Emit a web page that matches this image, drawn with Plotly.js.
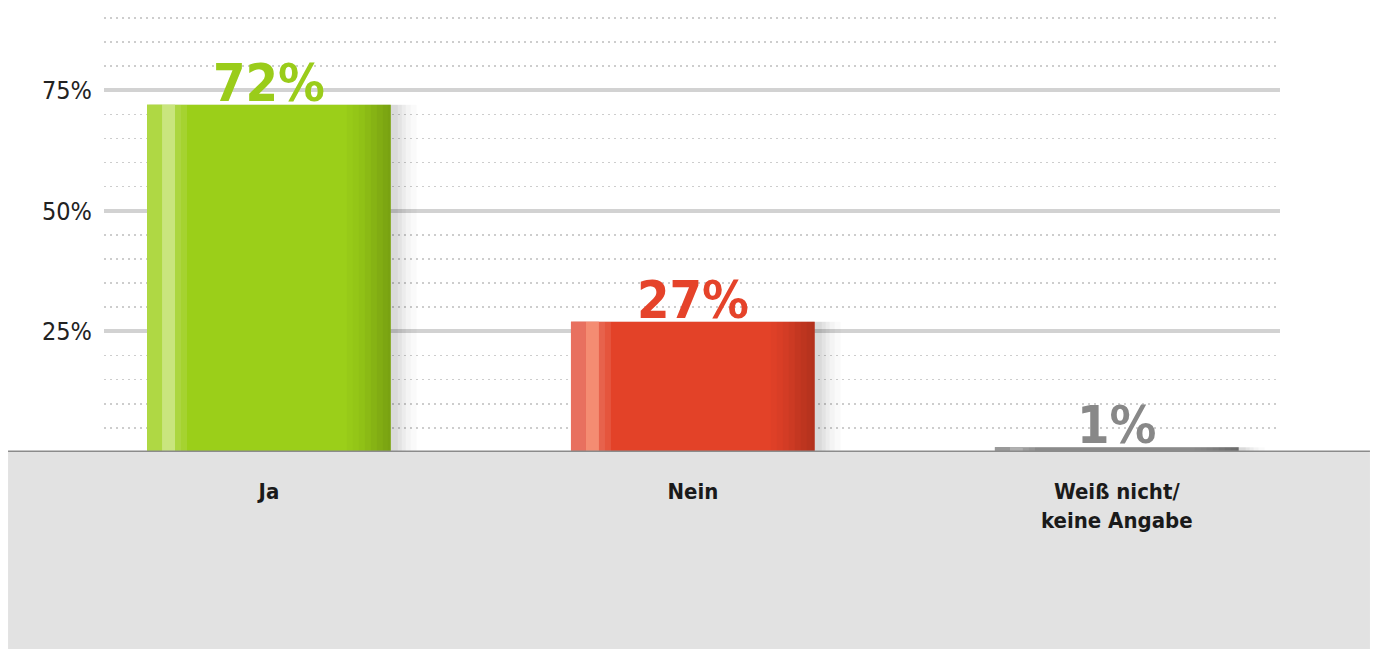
<!DOCTYPE html>
<html>
<head>
<meta charset="utf-8">
<script src="https://cdn.plot.ly/plotly-3.0.1.min.js"></script>
<style>html,body{margin:0;padding:0;background:#fff;}#chart{width:1375px;height:649px;}</style>
</head>
<body>
<div id="chart"></div>
<script>
// ---- data ----
const categories = ['Ja', 'Nein', 'Weiß nicht/<br>keine Angabe'];
const values = [72, 27, 1];
const valueLabels = ['72%', '27%', '1%'];
const yTickVals = [25, 50, 75];
const yTickText = ['25%', '50%', '75%'];

// ---- styles ----
const mainColors = ['#9bcf19', '#e34228', '#8a8a8a'];
const edgeColors = ['#afd844', '#e8705f', '#999999'];
const stripeColors = ['#c9e57e', '#f48c72', '#b0b0b0'];
const textColors = ['#9acc1a', '#e5432a', '#888888'];
const FONT = '"DejaVu Sans Condensed", "Liberation Sans Narrow", sans-serif';

const W = 0.575;          // bar width (category units)
const L = -W / 2;         // left offset
const px = 1 / 424;       // one pixel in category units

function barTrace(offset, width, colors, extra) {
  return Object.assign({
    type: 'bar', x: categories, y: values, offset: offset, width: width,
    marker: {color: colors, line: {width: 0}},
    hoverinfo: 'skip', showlegend: false
  }, extra || {});
}

const traces = [];
// soft shadow on the right
[[24, 0.02], [18, 0.025], [13, 0.03], [9, 0.035], [5, 0.04]].forEach(([e, a]) => {
  traces.push(barTrace(L + 2 * px, W + e * px, 'rgba(0,0,0,' + a + ')'));
});
// main body
traces.push(barTrace(L, W, mainColors, {hoverinfo: 'x+y'}));
// left lighter edge
traces.push(barTrace(L, 15 * px, edgeColors));
// highlight stripe
traces.push(barTrace(L + 15 * px, 13 * px, stripeColors));
// soft fade after stripe
[[12, 0.10], [6, 0.08]].forEach(([w, a]) => {
  traces.push(barTrace(L + 28 * px, w * px, 'rgba(255,255,255,' + a + ')'));
});
// right-side darkening (gradual)
[[44, 0.02], [38, 0.02], [32, 0.025], [26, 0.03], [20, 0.035], [14, 0.035], [8, 0.03], [3, 0.02]].forEach(([w, a]) => {
  traces.push(barTrace(L + W - w * px, w * px, 'rgba(0,0,0,' + a + ')'));
});

const annotations = categories.map((c, i) => ({
  x: c, y: values[i], xref: 'x', yref: 'y',
  text: valueLabels[i], showarrow: false,
  yanchor: 'bottom', yshift: -10,
  font: {family: FONT, size: 52, weight: 'bold', color: textColors[i]}
}));

const shapes = [
  {type: 'rect', xref: 'paper', yref: 'paper', x0: -0.0816, x1: 1.0765, y0: -0.6, y1: 0,
   fillcolor: '#e2e2e2', line: {width: 0}, layer: 'below'},
  {type: 'line', xref: 'paper', yref: 'y', x0: -0.0816, x1: 1.0765, y0: 0, y1: 0,
   line: {color: '#8b8b8b', width: 3}, layer: 'above'}
];

const layout = {
  width: 1375, height: 649,
  margin: {l: 104, r: 95, t: 13, b: 197, pad: 0},
  paper_bgcolor: '#ffffff', plot_bgcolor: 'rgba(0,0,0,0)',
  barmode: 'overlay',
  showlegend: false,
  font: {family: FONT, color: '#222222'},
  xaxis: {
    type: 'category', range: [-0.389, 2.385],
    showgrid: false, zeroline: false, showline: false, ticks: '',
    tickfont: {family: FONT, size: 22, weight: 'bold', color: '#1a1a1a'},
    ticklabelstandoff: 24, fixedrange: true
  },
  yaxis: {
    range: [0, 91], tickvals: yTickVals, ticktext: yTickText,
    showgrid: true, gridcolor: '#d2d2d2', gridwidth: 4,
    zeroline: false, showline: false, ticks: '',
    tickfont: {family: FONT, size: 25, color: '#222222'},
    ticklabelstandoff: 11,
    minor: {dtick: 5, tick0: 0, showgrid: true, gridcolor: '#cdcdcd', gridwidth: 1.6, griddash: '1.6px,4.4px', ticks: ''},
    fixedrange: true
  },
  annotations: annotations,
  shapes: shapes
};

Plotly.newPlot('chart', traces, layout, {displayModeBar: false, staticPlot: true});
</script>
</body>
</html>
